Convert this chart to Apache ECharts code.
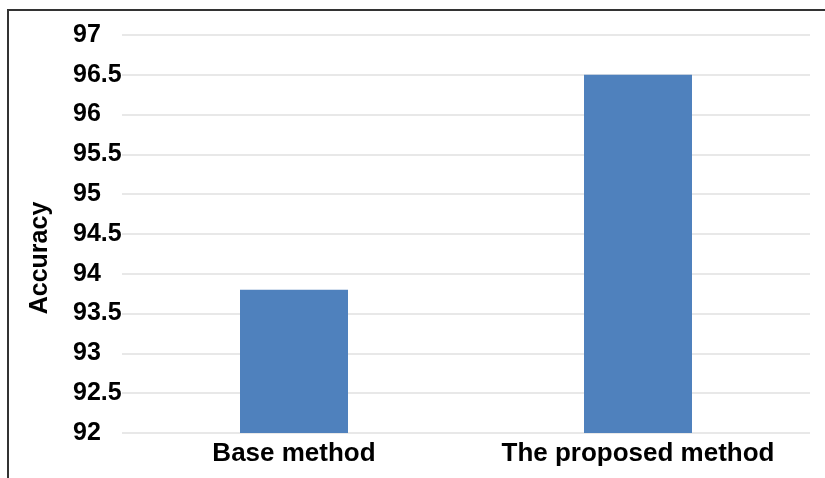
<!DOCTYPE html>
<html>
<head>
<meta charset="utf-8">
<script src="https://cdn.jsdelivr.net/npm/echarts@6/dist/echarts.min.js"></script>
<style>
  html, body { margin: 0; padding: 0; background: #fff; }
  #chart { width: 825px; height: 478px; }
</style>
</head>
<body>
<div id="chart"></div>
<script>
// data
const methods = ['Base method', 'The proposed method'];
const accuracy = [93.8, 96.5];

const myChart = echarts.init(document.getElementById('chart'));

const option = {
    backgroundColor: '#fff',
    animation: false,
    grid: { left: 122, right: 15, top: 35, bottom: 45 },
    xAxis: {
        type: 'category',
        data: methods,
        axisLine: { show: false },
        axisTick: { show: false },
        axisLabel: {
            interval: 0,
            hideOverlap: false,
            color: '#000',
            fontFamily: 'Liberation Sans, Arial, sans-serif',
            fontWeight: 'bold',
            fontSize: 26,
            margin: 8
        }
    },
    yAxis: {
        type: 'value',
        min: 92,
        max: 97,
        interval: 0.5,
        axisLine: { show: false },
        axisTick: { show: false },
        splitLine: { lineStyle: { color: '#e0e0e0', width: 1.5 } },
        axisLabel: {
            color: '#000',
            fontFamily: 'Liberation Sans, Arial, sans-serif',
            fontWeight: 'bold',
            fontSize: 25,
            align: 'left',
            margin: 49
        }
    },
    series: [{
        type: 'bar',
        data: accuracy,
        barWidth: 108,
        itemStyle: { color: '#4f81bd' }
    }],
    graphic: [
        {
            // frame of the original figure (left and top edges)
            type: 'polyline',
            shape: { points: [[8, 478], [8, 10], [825, 10]] },
            style: { stroke: '#333', lineWidth: 2, fill: null }
        },
        {
            type: 'text',
            x: 40,
            y: 258,
            rotation: Math.PI / 2,
            style: {
                text: 'Accuracy',
                fill: '#000',
                font: 'bold 25px "Liberation Sans", Arial, sans-serif',
                align: 'center',
                verticalAlign: 'middle'
            }
        }
    ]
};

myChart.setOption(option);
</script>
</body>
</html>
